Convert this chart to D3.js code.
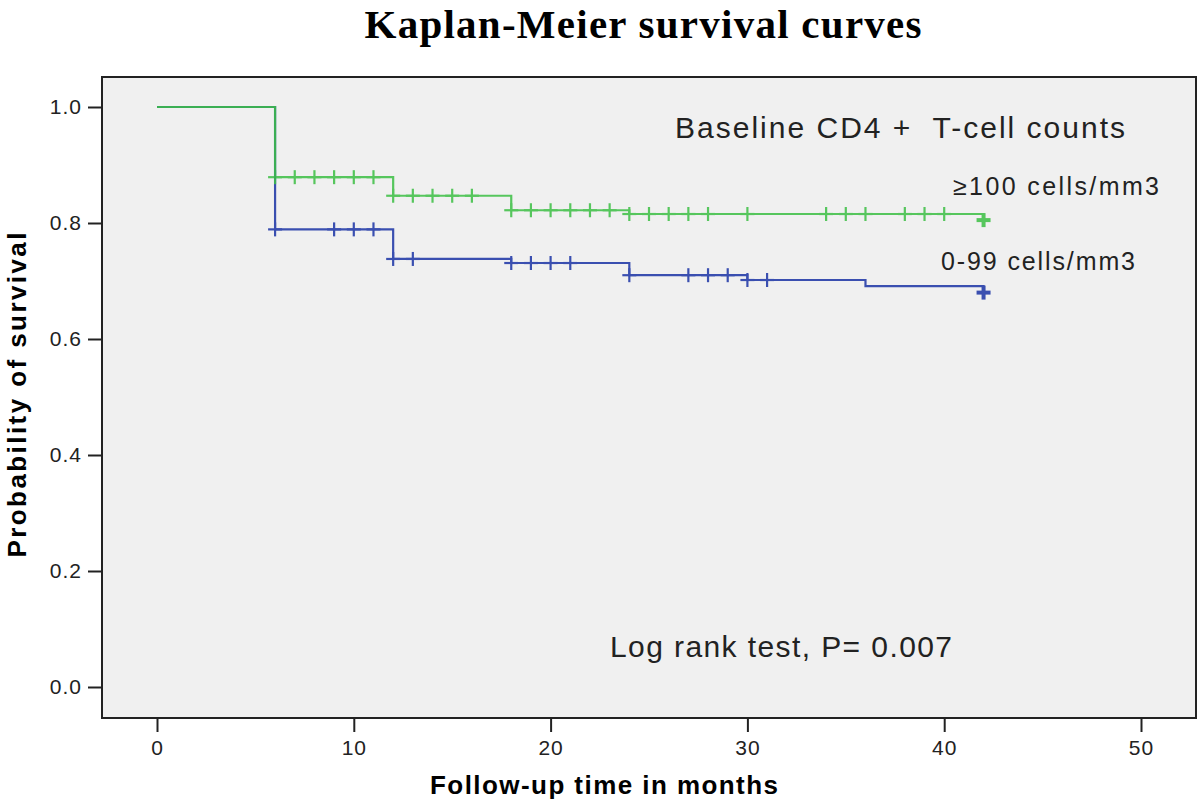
<!DOCTYPE html>
<html>
<head>
<meta charset="utf-8">
<script src="https://cdn.jsdelivr.net/npm/d3@7"></script>
<style>
  body { margin: 0; background: #fff; }
  svg { display: block; }
  text { white-space: pre; }
</style>
</head>
<body>
<div class="chart"></div>
<script>
// survival steps (time in months, probability after the step)
const greenTimes = [0, 6, 12, 18, 24, 42];
const greenSurv = [1.0, 0.879, 0.847, 0.822, 0.8155, 0.805];
const greenCensored = [6, 7, 8, 9, 10, 11, 12, 13, 14, 15, 16, 18, 19, 20, 21, 22, 23, 24, 25, 26, 27, 28, 30, 34, 35, 36, 38, 39, 40, 42];

const blueTimes = [0, 6, 12, 18, 24, 30, 36, 42];
const blueSurv = [1.0, 0.789, 0.738, 0.731, 0.710, 0.7017, 0.691, 0.680];
const blueCensored = [6, 9, 10, 11, 12, 13, 18, 19, 20, 21, 24, 27, 28, 29, 30, 31, 42];

const xTicks = [0, 10, 20, 30, 40, 50];
const yTicks = [0.0, 0.2, 0.4, 0.6, 0.8, 1.0];

const W = 1200, H = 805;
const frame = { left: 102, top: 77, right: 1196, bottom: 718 };

const svg = d3.select(".chart").append("svg")
  .attr("width", W)
  .attr("height", H);

const x = d3.scaleLinear().domain([0, 50]).range([157, 1141]);
const y = d3.scaleLinear().domain([0, 1]).range([687, 107]);

// title
svg.append("text")
  .attr("x", 643).attr("y", 38)
  .attr("text-anchor", "middle")
  .attr("font-family", "Liberation Serif, Times New Roman, serif")
  .attr("font-weight", "bold")
  .attr("font-size", 41)
  .attr("textLength", 557)
  .text("Kaplan-Meier survival curves");

// plot frame
svg.append("rect")
  .attr("x", frame.left).attr("y", frame.top)
  .attr("width", frame.right - frame.left)
  .attr("height", frame.bottom - frame.top)
  .attr("fill", "#f0f0f0")
  .attr("stroke", "#222")
  .attr("stroke-width", 2);

// axes
const xAxis = svg.append("g")
  .attr("transform", `translate(0,${frame.bottom})`)
  .call(d3.axisBottom(x).tickValues(xTicks).tickSize(14).tickPadding(8).tickFormat(d3.format("d")));
const yAxis = svg.append("g")
  .attr("transform", `translate(${frame.left},0)`)
  .call(d3.axisLeft(y).tickValues(yTicks).tickSize(14).tickPadding(6).tickFormat(d3.format(".1f")));

[xAxis, yAxis].forEach(g => {
  g.select(".domain").remove();
  g.selectAll(".tick line").attr("stroke", "#222").attr("stroke-width", 2);
  g.selectAll(".tick text")
    .attr("fill", "#222")
    .attr("font-family", "Liberation Sans, Arial, sans-serif")
    .attr("font-size", 21)
    .attr("letter-spacing", 1);
});

// axis labels
svg.append("text")
  .attr("x", 604).attr("y", 794)
  .attr("text-anchor", "middle")
  .attr("font-family", "Liberation Sans, Arial, sans-serif")
  .attr("font-weight", "bold")
  .attr("font-size", 26)
  .attr("textLength", 348)
  .text("Follow-up time in months");

svg.append("text")
  .attr("transform", "translate(26,395) rotate(-90)")
  .attr("text-anchor", "middle")
  .attr("font-family", "Liberation Sans, Arial, sans-serif")
  .attr("font-weight", "bold")
  .attr("font-size", 26)
  .attr("textLength", 325)
  .text("Probability of survival");

// curves
const line = d3.line()
  .x(d => x(d[0]))
  .y(d => y(d[1]))
  .curve(d3.curveStepAfter);

const survAt = (times, surv, t) => {
  let v = surv[0];
  times.forEach((tt, i) => { if (tt <= t) v = surv[i]; });
  return v;
};

const drawCurve = (times, surv, censored, color, opacity) => {
  const pts = times.map((t, i) => [t, surv[i]]);
  const g = svg.append("g").attr("opacity", opacity);
  g.append("path")
    .attr("d", line(pts))
    .attr("fill", "none")
    .attr("stroke", color)
    .attr("stroke-width", 2.2);
  const marks = g.selectAll(".mark")
    .data(censored)
    .enter().append("g")
    .attr("class", "mark")
    .attr("transform", d => `translate(${x(d)},${y(survAt(times, surv, d))})`);
  marks.append("line")
    .attr("x1", -7).attr("x2", 7).attr("y1", 0).attr("y2", 0)
    .attr("stroke", color).attr("stroke-width", d => d === 42 ? 4 : 2.2);
  marks.append("line")
    .attr("x1", 0).attr("x2", 0).attr("y1", -7).attr("y2", 7)
    .attr("stroke", color).attr("stroke-width", d => d === 42 ? 4 : 2.2);
};

drawCurve(blueTimes, blueSurv, blueCensored, "#3a4fb0", 1);
drawCurve(greenTimes, greenSurv, greenCensored, "#3cbf44", 0.85);

// annotations
const note = (tx, ty, size, len, str) => svg.append("text")
  .attr("x", tx).attr("y", ty)
  .attr("font-family", "Liberation Sans, Arial, sans-serif")
  .attr("font-size", size)
  .attr("fill", "#222")
  .attr("textLength", len)
  .text(str);

note(675, 138, 30, 450, "Baseline CD4 +  T-cell counts");
note(953, 195, 25, 206, "\u2265100 cells/mm3");
note(941, 270, 25, 194, "0-99 cells/mm3");
note(610, 657, 30, 342, "Log rank test, P= 0.007");
</script>
</body>
</html>
